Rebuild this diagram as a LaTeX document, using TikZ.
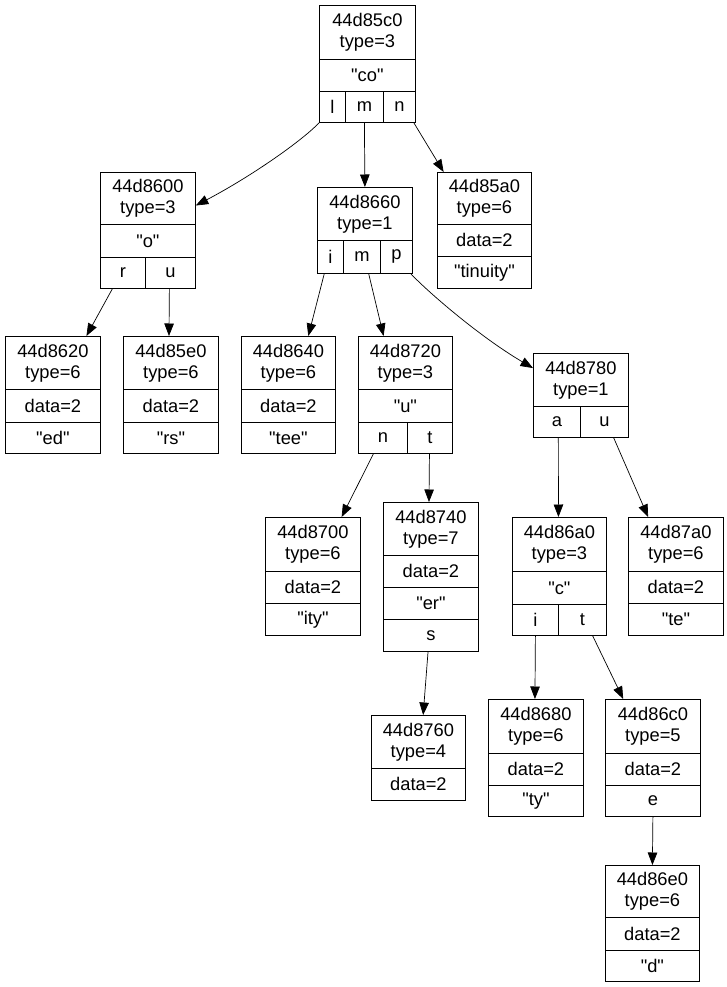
\documentclass[tikz,border=0pt]{standalone}
\usepackage{fontspec}
\setmainfont{Liberation Sans}[Ligatures=TeXOff]
\usetikzlibrary{arrows.meta,calc}
\tikzset{
  cellbox/.style={draw, line width=0.8pt, inner sep=0pt, anchor=north west, align=center,
    font=\fontsize{18.3}{21}\selectfont},
  edge/.style={line width=0.7pt, -{Triangle[length=12.5pt,width=9.5pt]}}
}
\newcommand{\rc}[6]{\node[cellbox, minimum width={(#4-#2)*1pt}, minimum height={(#5-#3)*1pt}] (#1) at (#2,#3) {#6};}
\begin{document}
\begin{tikzpicture}[x=1pt,y=-1pt]
\fill[white] (0,0) rectangle (727,987);
\useasboundingbox (0,0) rectangle (727,987);
% root 44d85c0
\rc{r0h}{319}{5}{415}{59}{44d85c0\\type=3}
\rc{r0s}{319}{59}{415}{91}{"co"}
\rc{r0l}{319}{91}{345}{122}{l}
\rc{r0m}{345}{91}{383}{122}{m}
\rc{r0n}{383}{91}{415}{122}{n}
% 44d8600
\rc{a00h}{100}{172}{195}{224}{44d8600\\type=3}
\rc{a00s}{100}{224}{195}{257}{"o"}
\rc{a00r}{100}{257}{145}{288}{r}
\rc{a00u}{145}{257}{195}{288}{u}
% 44d8660
\rc{a60h}{317}{187}{412}{240}{44d8660\\type=1}
\rc{a60i}{317}{240}{343}{273}{i}
\rc{a60m}{343}{240}{380}{273}{m}
\rc{a60p}{380}{240}{412}{273}{p}
% 44d85a0
\rc{ba0h}{437}{172}{531}{224}{44d85a0\\type=6}
\rc{ba0d}{437}{224}{531}{256}{data=2}
\rc{ba0s}{437}{256}{531}{288}{"tinuity"}
% 44d8620
\rc{a20h}{5}{336}{100}{389}{44d8620\\type=6}
\rc{a20d}{5}{389}{100}{422}{data=2}
\rc{a20s}{5}{422}{100}{453}{"ed"}
% 44d85e0
\rc{be0h}{123}{336}{218}{389}{44d85e0\\type=6}
\rc{be0d}{123}{389}{218}{422}{data=2}
\rc{be0s}{123}{422}{218}{453}{"rs"}
% 44d8640
\rc{a40h}{241}{336}{335}{389}{44d8640\\type=6}
\rc{a40d}{241}{389}{335}{422}{data=2}
\rc{a40s}{241}{422}{335}{453}{"tee"}
% 44d8720
\rc{c20h}{358}{336}{452}{389}{44d8720\\type=3}
\rc{c20s}{358}{389}{452}{422}{"u"}
\rc{c20n}{358}{422}{407}{453}{n}
\rc{c20t}{407}{422}{452}{453}{t}
% 44d8780
\rc{c80h}{533}{353}{628}{406}{44d8780\\type=1}
\rc{c80a}{533}{406}{580}{437}{a}
\rc{c80u}{580}{406}{628}{437}{u}
% 44d8700
\rc{c00h}{265}{517}{360}{571}{44d8700\\type=6}
\rc{c00d}{265}{571}{360}{603}{data=2}
\rc{c00s}{265}{603}{360}{635}{"ity"}
% 44d8740
\rc{c40h}{383}{502}{478}{555}{44d8740\\type=7}
\rc{c40d}{383}{555}{478}{587}{data=2}
\rc{c40e}{383}{587}{478}{619}{"er"}
\rc{c40s}{383}{619}{478}{651}{s}
% 44d86a0
\rc{ea0h}{512}{517}{606}{571}{44d86a0\\type=3}
\rc{ea0s}{512}{571}{606}{604}{"c"}
\rc{ea0i}{512}{604}{558}{635}{i}
\rc{ea0t}{558}{604}{606}{635}{t}
% 44d87a0
\rc{fa0h}{628}{517}{723}{571}{44d87a0\\type=6}
\rc{fa0d}{628}{571}{723}{603}{data=2}
\rc{fa0s}{628}{603}{723}{635}{"te"}
% 44d8760
\rc{c60h}{371}{715}{465}{768}{44d8760\\type=4}
\rc{c60d}{371}{768}{465}{800}{data=2}
% 44d8680
\rc{e80h}{488}{699}{583}{753}{44d8680\\type=6}
\rc{e80d}{488}{753}{583}{785}{data=2}
\rc{e80s}{488}{785}{583}{816}{"ty"}
% 44d86c0
\rc{ec0h}{605}{699}{700}{753}{44d86c0\\type=5}
\rc{ec0d}{605}{753}{700}{785}{data=2}
\rc{ec0e}{605}{785}{700}{816}{e}
% 44d86e0
\rc{ee0h}{605}{865}{699}{917}{44d86e0\\type=6}
\rc{ee0d}{605}{917}{699}{950}{data=2}
\rc{ee0s}{605}{950}{699}{981}{"d"}
% edges
\draw[edge] (r0l.south west) .. controls (303,140) and (252,176) .. ($(a00h.north east)!0.635!(a00h.south east)$);
\draw[edge] (r0m.south) -- (a60h.north);
\draw[edge] ($(r0n.south west)!0.94!(r0n.south east)$) -- ($(ba0h.north west)!0.07!(ba0h.north east)$);
\draw[edge] ($(a00r.south west)!0.27!(a00r.south east)$) -- ($(a20h.north west)!0.85!(a20h.north east)$);
\draw[edge] ($(a00u.south west)!0.48!(a00u.south east)$) -- ($(be0h.north west)!0.48!(be0h.north east)$);
\draw[edge] ($(a60i.south west)!0.27!(a60i.south east)$) -- ($(a40h.north west)!0.71!(a40h.north east)$);
\draw[edge] ($(a60m.south west)!0.68!(a60m.south east)$) -- ($(c20h.north west)!0.27!(c20h.north east)$);
\draw[edge] ($(a60p.south west)!0.94!(a60p.south east)$) .. controls (428,292) and (480,337) .. ($(c80h.north west)!0.28!(c80h.south west)$);
\draw[edge] ($(c20n.south west)!0.31!(c20n.south east)$) -- ($(c00h.north west)!0.8!(c00h.north east)$);
\draw[edge] ($(c20t.south west)!0.49!(c20t.south east)$) -- ($(c40h.north west)!0.48!(c40h.north east)$);
\draw[edge] ($(c80a.south west)!0.53!(c80a.south east)$) -- ($(ea0h.north west)!0.49!(ea0h.north east)$);
\draw[edge] ($(c80u.south west)!0.69!(c80u.south east)$) -- ($(fa0h.north west)!0.21!(fa0h.north east)$);
\draw[edge] ($(c40s.south west)!0.47!(c40s.south east)$) -- ($(c60h.north west)!0.55!(c60h.north east)$);
\draw[edge] ($(ea0i.south west)!0.5!(ea0i.south east)$) -- ($(e80h.north west)!0.49!(e80h.north east)$);
\draw[edge] ($(ea0t.south west)!0.71!(ea0t.south east)$) -- ($(ec0h.north west)!0.19!(ec0h.north east)$);
\draw[edge] (ec0e.south) -- (ee0h.north);
\end{tikzpicture}
\end{document}
